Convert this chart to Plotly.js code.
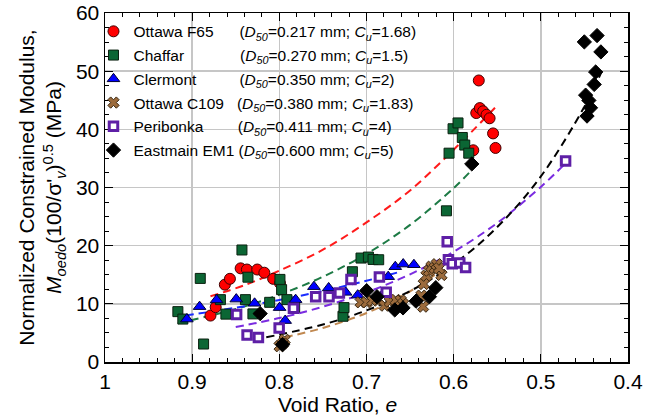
<!DOCTYPE html>
<html><head><meta charset="utf-8">
<script src="https://cdn.plot.ly/plotly-3.0.1.min.js"></script>
<style>html,body{margin:0;padding:0;background:#fff}</style>
</head><body><div id="chart" style="width:668px;height:417px"></div>
<script>
// ---- data (void ratio e, normalized constrained modulus in MPa) ----
const f65_e = [0.879,0.873,0.8625,0.8567,0.8444,0.8372,0.8253,0.8172,0.8071,0.7993,0.5712,0.5741,0.570,0.5662,0.5623,0.5588,0.5548,0.552,0.5775];
const f65_m = [7.98,9.43,13.3,14.3,16.1,15.9,15.9,15.35,14.3,13.55,48.4,42.8,43.65,43.1,42.5,41.9,39.3,36.8,36.4];

const chaffar_e = [0.9164,0.9107,0.8907,0.8869,0.8676,0.8613,0.8429,0.8389,0.836,0.8303,0.8111,0.7993,0.7974,0.7913,0.7824,0.727,0.7258,0.7162,0.7063,0.6978,0.6925,0.686,0.6083,0.6053,0.6007,0.595,0.5901,0.5873,0.5827];
const chaffar_m = [8.66,7.38,14.37,3.09,10.72,8.23,19.26,10.72,14.58,8.27,10.26,14.2,12.44,10.72,9.43,7.86,9.35,15.52,17.87,18.04,17.63,17.58,25.99,35.9,40.1,41.1,38.6,37.3,35.9];

const clermont_e = [0.9061,0.8915,0.872,0.8494,0.8284,0.7997,0.7933,0.7813,0.7603,0.7434,0.7239,0.7101,0.681,0.6751,0.667,0.6579,0.6456];
const clermont_m = [7.38,9.52,10.67,10.81,10.09,9.35,7.12,10.72,12.95,12.73,11.97,11.49,11.7,14.67,16.38,16.84,16.72];

const c109_e = [0.7997,0.7939,0.7962,0.7067,0.6998,0.6932,0.6875,0.6791,0.6734,0.6665,0.6607,0.6581,0.637,0.6351,0.6343,0.6312,0.6282,0.6255,0.6217,0.6194,0.614,0.6168];
const c109_m = [2.71,3.81,3.17,10.26,10.26,10.55,10.67,9.69,10.38,10.67,10.55,9.98,11.41,9.52,13.41,14.84,15.69,16.38,16.16,16.81,14.96,16.12];

const peri_e = [0.849,0.837,0.824,0.8002,0.7838,0.7583,0.743,0.7311,0.7178,0.6852,0.6774,0.6074,0.606,0.6016,0.593,0.5863,0.4716];
const peri_m = [8.15,4.63,4.2,5.83,9.26,11.23,11.23,11.87,14.2,14.63,11.97,20.67,17.58,16.9,17.02,16.26,34.56];

const em1_e = [0.822,0.7962,0.6998,0.688,0.6676,0.6581,0.6432,0.6278,0.6205,0.5792,0.4501,0.4355,0.4311,0.4371,0.4388,0.4486,0.4449,0.443,0.447];
const em1_m = [8.32,3.0,12.26,11.23,8.95,9.3,10.46,11.23,12.78,34.05,55.03,56.12,53.31,49.86,47.72,45.88,44.97,43.7,42.28];

// trend curves
const f65_fit_e = [0.879,0.84,0.80,0.75,0.70,0.65,0.60,0.552];
const f65_fit_m = [11.3,13.2,15.7,19.3,24.0,29.5,36.5,43.8];
const chaffar_fit_e = [0.9164,0.85,0.80,0.75,0.70,0.65,0.60,0.5815];
const chaffar_fit_m = [6.65,9.11,11.56,14.66,18.59,23.57,29.9,32.65];
const clermont_fit_e = [0.9076,0.85,0.80,0.75,0.70,0.6638];
const clermont_fit_m = [7.98,9.33,10.67,12.21,13.97,15.41];
const c109_fit_e = [0.7939,0.75,0.70,0.65,0.6122];
const c109_fit_m = [4.25,5.85,8.43,12.15,16.0];
const peri_fit_e = [0.85,0.80,0.75,0.70,0.65,0.60,0.55,0.50,0.472];
const peri_fit_m = [6.0,7.55,9.51,11.97,15.07,18.97,23.9,30.1,34.1];
const em1_fit_e = [0.815,0.75,0.70,0.65,0.60,0.55,0.50,0.45,0.43];
const em1_fit_m = [4.25,6.44,8.87,12.2,16.8,23.2,31.9,43.9,50.0];

const names = ['Ottawa F65','Chaffar','Clermont','Ottawa C109','Peribonka','Eastmain EM1'];
const d50 = ['0.217','0.270','0.350','0.380','0.411','0.600'];
const cu = ['1.68','1.5','2','1.83','4','5'];
const pad = [6,13,10,3,8,1];

const NB = '\u00a0';
function label(i){
  return names[i] + NB.repeat(pad[i]) + '(<i>D</i><sub><i>50</i></sub>=' + d50[i] + ' mm; <i>C</i><sub><i>u</i></sub>=' + cu[i] + ')';
}

function fit(x, y, color){
  return {x:x, y:y, type:'scatter', mode:'lines', showlegend:false, hoverinfo:'skip',
    line:{color:color, width:2, dash:'8px,5px', shape:'spline'}};
}
const traces = [
  fit(f65_fit_e, f65_fit_m, '#ff1a1a'),
  fit(chaffar_fit_e, chaffar_fit_m, '#1d7a45'),
  fit(clermont_fit_e, clermont_fit_m, '#1a2cff'),
  fit(c109_fit_e, c109_fit_m, '#c08850'),
  fit(peri_fit_e, peri_fit_m, '#7a2be0'),
  fit(em1_fit_e, em1_fit_m, '#000000'),
  {x:f65_e, y:f65_m, name:label(0), legendgroup:'a', type:'scatter', mode:'markers',
   marker:{symbol:'circle', size:11, color:'#ff0000', line:{color:'#400000', width:1}}},
  {x:chaffar_e, y:chaffar_m, name:label(1), legendgroup:'b', type:'scatter', mode:'markers',
   marker:{symbol:'square', size:10, color:'#0b6634', line:{color:'#0a200f', width:1}}},
  {x:clermont_e, y:clermont_m, name:label(2), legendgroup:'c', type:'scatter', mode:'markers',
   marker:{symbol:'triangle-up', size:11, color:'#0000ff', line:{color:'#000033', width:1}}},
  {x:c109_e, y:c109_m, name:label(3), legendgroup:'d', type:'scatter', mode:'markers',
   marker:{symbol:'x', size:10, color:'#9c6b3c', line:{color:'#3a2812', width:1}}},
  {x:peri_e, y:peri_m, name:label(4), legendgroup:'e', type:'scatter', mode:'markers',
   marker:{symbol:'square', size:8.5, color:'#ffffff', line:{color:'#5e1fa6', width:3}}},
  {x:em1_e, y:em1_m, name:label(5), legendgroup:'f', type:'scatter', mode:'markers',
   marker:{symbol:'diamond', size:11, color:'#000000', line:{color:'#000000', width:1}}}
];

const axisCommon = {
  ticks:'inside', ticklen:8, tickwidth:1.2, tickcolor:'#000',
  showline:true, linecolor:'#000', linewidth:1.5, mirror:'allticks',
  showgrid:true, gridcolor:'#c6c6c6', gridwidth:1.5, zeroline:false,
  tickfont:{size:21, color:'#000'}
};
const layout = {
  width:668, height:417,
  margin:{l:105, r:40, t:13, b:55},
  paper_bgcolor:'#fff', plot_bgcolor:'#fff',
  font:{family:'"Liberation Sans", Arial, sans-serif', size:21, color:'#000'},
  xaxis:Object.assign({}, axisCommon, {
    range:[1,0.4], dtick:0.1, tick0:0,
    minor:{ticks:'inside', ticklen:4, dtick:0.02, tick0:0, tickcolor:'#000', tickwidth:1, showgrid:false}
  }),
  yaxis:Object.assign({}, axisCommon, {
    range:[0,60], dtick:10,
    minor:{ticks:'inside', ticklen:4, dtick:2.5, tickcolor:'#000', tickwidth:1, showgrid:false},
    title:{text:"Normalized Constrained Modulus,<br><i>M</i><sub><i>oedo</i></sub>(100/σ'<sub><i>v</i></sub>)<sup>0.5</sup> (MPa)", font:{size:21}, standoff:8}
  }),
  annotations:[{text:'Void Ratio, <i>e</i>', xref:'paper', yref:'paper', x:0.4436, y:-0.121,
    xanchor:'center', yanchor:'middle', showarrow:false, font:{size:21, color:'#000'}}],
  legend:{x:-0.022, y:0.995, xanchor:'left', yanchor:'top', bgcolor:'rgba(0,0,0,0)', borderwidth:0,
    font:{size:15.5, color:'#000'}, traceorder:'grouped', tracegroupgap:0.6, itemwidth:30},
  shapes:[{type:'rect', xref:'paper', yref:'paper', x0:0.019, x1:0.583, y0:0.57, y1:0.994,
    fillcolor:'#fff', line:{width:0}, layer:'between'}],
  showlegend:true
};
Plotly.newPlot('chart', traces, layout, {displayModeBar:false, staticPlot:true});
</script></body></html>
